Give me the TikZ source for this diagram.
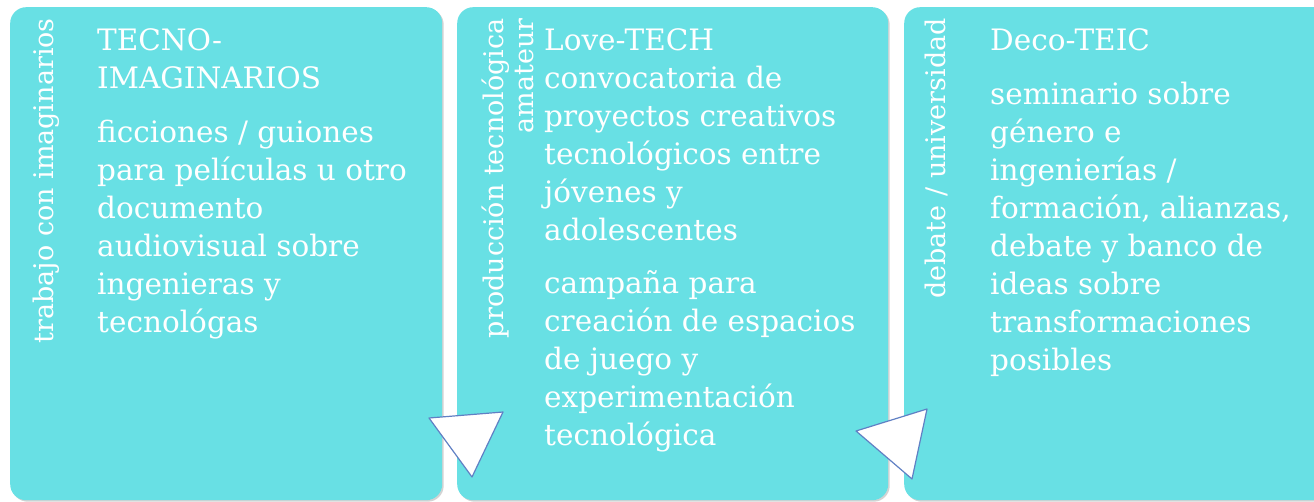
\documentclass[tikz,border=0pt]{standalone}
\usepackage{fontspec}
\setmainfont{DejaVu Serif}
\usetikzlibrary{shadows}

\definecolor{panelcyan}{RGB}{104,224,228}
\definecolor{tribord}{RGB}{96,128,196}

\tikzset{
  panel/.style={fill=panelcyan, draw=none, rounded corners=16pt, anchor=north west,
    minimum height=493pt,
    drop shadow={shadow xshift=1.5pt, shadow yshift=-1.5pt, opacity=.35, fill=gray}},
  sidelabel/.style={rotate=90, anchor=base east, text=white, inner sep=0pt,
    align=right, font=\fontsize{27}{30}\selectfont},
  paneltext/.style={anchor=north west, text=white, inner sep=0pt, align=left,
    font=\fontsize{29.5}{38}\selectfont},
  chevron/.style={fill=white, draw=tribord, line width=1.2pt, line join=round}
}

\begin{document}
\begin{tikzpicture}[x=1pt, y=-1pt]
    \useasboundingbox (0,0) rectangle (1314,502);

    \node[panel, minimum width=432pt] (imag) at (10,7) {};
    \node[panel, minimum width=431pt] (love) at (457,7) {};
    \node[panel, minimum width=440pt] (deco) at (904,7) {};

    \node[sidelabel] (imaglabel) at (53,18) {trabajo con imaginarios};
    \node[sidelabel] (lovelabel) at (533,18) {producción tecnológica\\amateur};
    \node[sidelabel] (decolabel) at (945,18) {debate / universidad};

    \node[paneltext] (imagtext) at (97,28) {TECNO-\\IMAGINARIOS\\[16pt]
        ficciones / guiones\\para películas u otro\\documento\\audiovisual sobre\\ingenieras y\\tecnológas};
    \node[paneltext] (lovetext) at (544,28) {Love-TECH\\convocatoria de\\proyectos creativos\\tecnológicos entre\\jóvenes y\\adolescentes\\[15pt]
        campaña para\\creación de espacios\\de juego y\\experimentación\\tecnológica};
    \node[paneltext] (decotext) at (990,28) {Deco-TEIC\\[16pt]
        seminario sobre\\género e\\ingenierías /\\formación, alianzas,\\debate y banco de\\ideas sobre\\transformaciones\\posibles};

    \draw[chevron] (429,418) -- (503,412) -- (472,477) -- cycle;
    \draw[chevron] (856,431) -- (927,409) -- (912,479) -- cycle;
\end{tikzpicture}
\end{document}
